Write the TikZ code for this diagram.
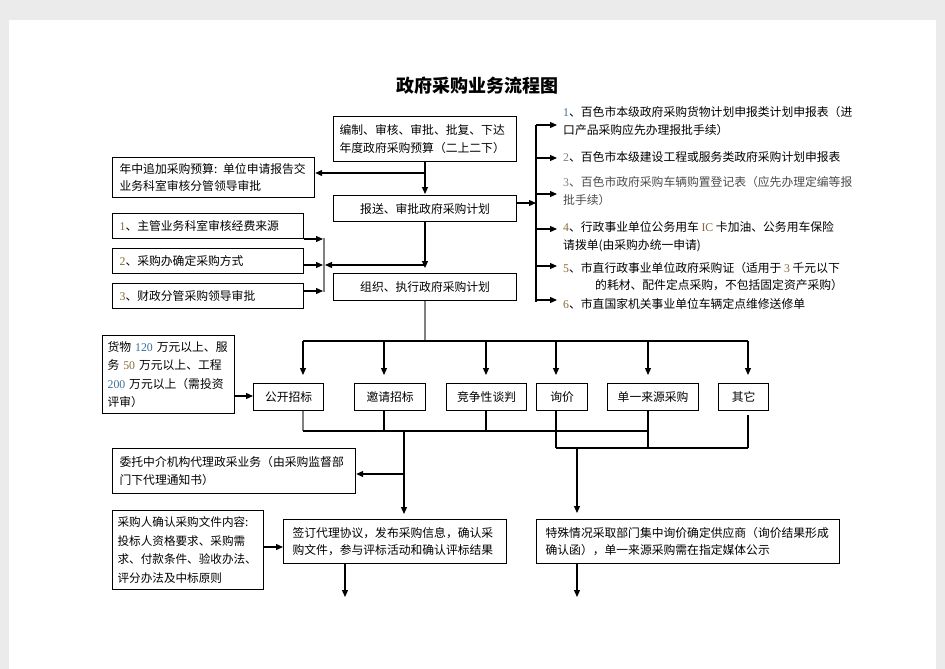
\documentclass[tikz,border=0pt]{standalone}
\usepackage{fontspec}
\setmainfont{Noto Sans CJK SC}
\newfontfamily\numfont{Liberation Serif}
\usetikzlibrary{arrows.meta}
\definecolor{numbrown}{HTML}{8A6A3A}
\definecolor{numblue}{HTML}{3A6E9A}
\definecolor{linegray}{HTML}{808080}
\definecolor{pagegray}{HTML}{EBEBEB}
\newcommand\bodyfs{\fontsize{11.8pt}{17.5pt}\selectfont}
\newcommand\nm[2][numbrown]{{\numfont\color{#1}#2}}
\begin{document}
\begin{tikzpicture}[x=1pt,y=-1pt,
  box/.style={draw, line width=1.2pt, anchor=north west, inner sep=0pt, font=\bodyfs},
  lbox/.style={box, align=left},
  mbox/.style={box, align=center, minimum height=27pt},
  rtext/.style={anchor=west, inner sep=0pt, align=left, font=\bodyfs},
  conn/.style={line width=1.2pt},
  gconn/.style={conn, draw=linegray},
  arr/.style={conn, -{Triangle[length=7pt,width=6pt]}},
]
\useasboundingbox (0,0) rectangle (945,669);
\fill[pagegray] (0,0) rectangle (945,669);
\fill[white] (9,20) rectangle (936,669);

% title
\node[font=\bfseries\fontsize{18pt}{20pt}\selectfont] (title) at (477,86) {政府采购业务流程图};

% upper boxes
\node[lbox, minimum width=183pt, minimum height=45pt, text width=171pt] (plan) at (333,116)
  {编制、审核、审批、批复、下达\\年度政府采购预算（二上二下）};
\node[lbox, minimum width=202pt, minimum height=40pt, text width=188pt] (nz) at (112,157)
  {年中追加采购预算: 单位申请报告交\\业务科室审核分管领导审批};
\node[mbox, minimum width=183pt, minimum height=26pt] (bs) at (333,195) {报送、审批政府采购计划};
\node[lbox, minimum width=191pt, minimum height=25pt, text width=177pt] (z1) at (112,213)
  {\nm{1}、主管业务科室审核经费来源};
\node[lbox, minimum width=191pt, minimum height=25pt, text width=177pt] (z2) at (112,248)
  {\nm{2}、采购办确定采购方式};
\node[lbox, minimum width=191pt, minimum height=25pt, text width=177pt] (z3) at (112,283)
  {\nm{3}、财政分管采购领导审批};
\node[mbox, minimum width=183pt] (zx) at (333,273) {组织、执行政府采购计划};

% right side texts
\node[rtext] (t1) at (563,121) {\nm[numblue]{1}、百色市本级政府采购货物计划申报类计划申报表（进\\口产品采购应先办理报批手续）};
\node[rtext] (t2) at (563,157) {\nm[gray]{2}、百色市本级建设工程或服务类政府采购计划申报表};
\node[rtext, text=black!70] (t3) at (563,191) {\nm[gray]{3}、百色市政府采购车辆购置登记表（应先办理定编等报\\批手续）};
\node[rtext] (t4) at (563,236.5) {\nm{4}、行政事业单位公务用车 \nm{IC} 卡加油、公务用车保险\\请拨单(由采购办统一申请)};
\node[rtext] (t5) at (563,276.5) {\nm{5}、市直行政事业单位政府采购证（适用于 \nm{3} 千元以下\\\hspace*{32pt}的耗材、配件定点采购，不包括固定资产采购）};
\node[rtext] (t6) at (563,304) {\nm{6}、市直国家机关事业单位车辆定点维修送修单};

% threshold box
\node[lbox, minimum width=132pt, minimum height=78pt, text width=122pt,
      font=\fontsize{11.8pt}{18.5pt}\selectfont] (hw) at (102,335)
  {货物 \nm[numblue]{120} 万元以上、服\\务 \nm{50} 万元以上、工程\\\nm[numblue]{200} 万元以上（需投资\\评审）};

% method boxes
\node[mbox, minimum width=70pt] (m1) at (253,383) {公开招标};
\node[mbox, minimum width=71pt] (m2) at (354,383) {邀请招标};
\node[mbox, minimum width=80pt] (m3) at (446,383) {竞争性谈判};
\node[mbox, minimum width=51pt] (m4) at (536,383) {询价};
\node[mbox, minimum width=91pt] (m5) at (607,383) {单一来源采购};
\node[mbox, minimum width=50pt] (m6) at (718,383) {其它};

% lower boxes
\node[lbox, minimum width=243pt, minimum height=45pt, text width=229pt] (wt) at (112,448)
  {委托中介机构代理政采业务（由采购监督部\\门下代理通知书）};
\node[lbox, minimum width=151pt, minimum height=79pt, text width=141pt,
      font=\fontsize{11.6pt}{18.5pt}\selectfont] (cg) at (112,510)
  {采购人确认采购文件内容:\\投标人资格要求、采购需\\求、付款条件、验收办法、\\评分办法及中标原则};
\node[lbox, minimum width=223pt, minimum height=44pt, text width=205pt] (qd) at (283,519)
  {签订代理协议，发布采购信息，确认采\\购文件，参与评标活动和确认评标结果};
\node[lbox, minimum width=303pt, minimum height=44pt, text width=285pt] (ts) at (536,519)
  {特殊情况采取部门集中询价确定供应商（询价结果形成\\确认函），单一来源采购需在指定媒体公示};

% ---------- connectors ----------
\coordinate (jA) at (425,173);
\draw[arr, shorten >=1pt] (plan.south -| jA) -- (bs.north -| jA);
\draw[arr] (jA) -- (jA -| nz.east);

% right bar
\coordinate (rin) at (536,203);
\coordinate (rtop) at (536,125);
\coordinate (rbot) at (536,302);
\draw[arr] (rin -| bs.east) -- (rin);
\draw[conn] (rtop) -- (rbot);
\coordinate (a1) at (557,125);
\coordinate (a2) at (557,158);
\coordinate (a3) at (557,194);
\coordinate (a4) at (557,229);
\coordinate (a5) at (557,266);
\coordinate (a6) at (557,300);
\foreach \a in {a1,a2,a3,a4,a5,a6} \draw[arr] (\a -| rtop) -- (\a);

% plan -> execution
\draw[arr, shorten >=5pt] (bs.south -| jA) -- (zx.north -| jA);
\coordinate (jB) at (425,265);
\coordinate (cb) at (325,265);
\draw[arr] (jB) -- (cb);
\coordinate (cbt) at (324,238);
\coordinate (cbb) at (324,292);
\draw[gconn] (cbt) -- (cbb);
\coordinate (c1) at (323,239);
\coordinate (c2) at (323,265);
\coordinate (c3) at (323,291);
\draw[arr] (c1 -| z1.east) -- (c1);
\draw[arr] (c2 -| z2.east) -- (c2);
\draw[arr] (c3 -| z3.east) -- (c3);

% distribution to methods
\coordinate (jm) at (425,341);
\draw[gconn] (zx.south -| jm) -- (jm);
\coordinate (d1) at (303,341);
\coordinate (d2) at (384,341);
\coordinate (d3) at (486,341);
\coordinate (d4) at (556,341);
\coordinate (d5) at (648,341);
\coordinate (d6) at (748,341);
\draw[conn] (d1) -- (d6);
\draw[arr, shorten >=8pt] (d1) -- (d1 |- m1.north);
\draw[arr, shorten >=8pt] (d2) -- (d2 |- m2.north);
\draw[arr, shorten >=8pt] (d3) -- (d3 |- m3.north);
\draw[arr, shorten >=8pt] (d4) -- (d4 |- m4.north);
\draw[arr, shorten >=8pt] (d5) -- (d5 |- m5.north);
\draw[arr, shorten >=8pt] (d6) -- (d6 |- m6.north);

% threshold -> open tender
\coordinate (ah) at (250,396);
\draw[arr] (ah -| hw.east) -- (ah -| m1.west);

% collection from methods
\coordinate (u1) at (303,431);
\coordinate (u2) at (384,431);
\coordinate (u3) at (486,431);
\coordinate (u4) at (556,448);
\coordinate (u5) at (648,448);
\coordinate (u6) at (748,448);
\coordinate (u5t) at (648,431);
\draw[gconn] (m1.south -| u1) -- (u1);
\draw[conn] (m2.south -| u2) -- (u2);
\draw[conn] (m3.south -| u3) -- (u3);
\draw[conn] (m4.south -| u4) -- (u4);
\draw[conn] (m5.south -| u5) -- (u5);
\draw[conn, shorten <=4pt] (m6.south -| u6) -- (u6);
\draw[conn] (u1) -- (u5t);
\draw[conn] (u4) -- (u6);

\coordinate (jL) at (404,431);
\coordinate (jW) at (404,474);
\draw[arr, shorten >=5pt] (jL) -- (qd.north -| jL);
\draw[arr] (jW) -- (jW -| wt.east);
\coordinate (jR) at (577,448);
\draw[arr, shorten >=6pt] (jR) -- (ts.north -| jR);

\coordinate (ac) at (280,547);
\draw[arr] (ac -| cg.east) -- (ac -| qd.west);

\coordinate (e1) at (345,597);
\coordinate (e2) at (577,597);
\draw[arr] (qd.south -| e1) -- (e1);
\draw[arr] (ts.south -| e2) -- (e2);
\end{tikzpicture}
\end{document}
